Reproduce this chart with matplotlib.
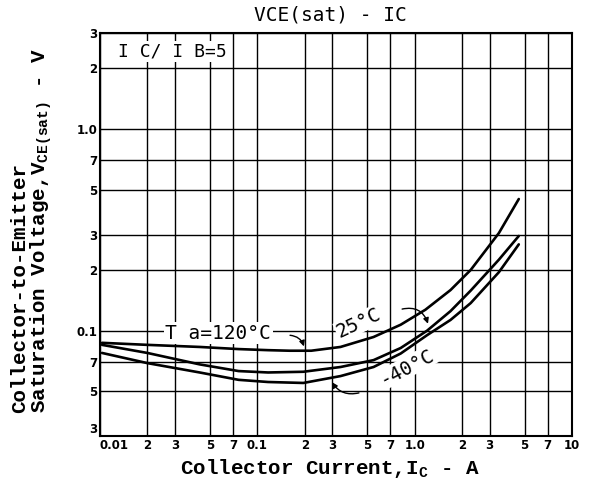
import matplotlib
matplotlib.use('Agg')
import matplotlib.pyplot as plt

# 数据
ic_120 = [0.0103, 0.02, 0.043, 0.076, 0.117, 0.16, 0.22, 0.338, 0.548, 0.815, 1.17, 1.69, 2.27, 3.43, 4.59]
vce_120 = [0.087, 0.085, 0.083, 0.081, 0.080, 0.0795, 0.0795, 0.083, 0.093, 0.107, 0.127, 0.159, 0.200, 0.305, 0.45]

ic_25 = [0.0103, 0.02, 0.043, 0.076, 0.117, 0.196, 0.338, 0.548, 0.815, 1.2, 1.69, 2.27, 3.43, 4.59]
vce_25 = [0.085, 0.0775, 0.068, 0.063, 0.062, 0.0625, 0.066, 0.0714, 0.082, 0.100, 0.125, 0.158, 0.225, 0.295]

ic_m40 = [0.0103, 0.02, 0.043, 0.076, 0.117, 0.196, 0.338, 0.548, 0.815, 1.2, 1.69, 2.27, 3.43, 4.59]
vce_m40 = [0.0775, 0.069, 0.062, 0.057, 0.0556, 0.055, 0.0595, 0.066, 0.077, 0.095, 0.113, 0.137, 0.195, 0.268]

x_ticks = [0.01, 0.02, 0.03, 0.05, 0.07, 0.1, 0.2, 0.3, 0.5, 0.7, 1.0, 2, 3, 5, 7, 10]
x_labels = ['0.01', '2', '3', '5', '7', '0.1', '2', '3', '5', '7', '1.0', '2', '3', '5', '7', '10']
y_ticks = [0.03, 0.05, 0.07, 0.1, 0.2, 0.3, 0.5, 0.7, 1.0, 2, 3]
y_labels = ['3', '5', '7', '0.1', '2', '3', '5', '7', '1.0', '2', '3']

mono = ['DejaVu Sans Mono', 'DejaVu Sans']
bold_mono = ['Liberation Mono', 'DejaVu Sans Mono']

fig = plt.figure(figsize=(5.97, 4.90), dpi=100)
ax = fig.add_axes([100 / 597, 1 - 436 / 490, 472 / 597, 403 / 490])
ax.set_xscale('log')
ax.set_yscale('log')
ax.set_xlim(0.01, 10)
ax.set_ylim(0.03, 3)

ax.set_xticks(x_ticks)
ax.set_xticklabels(x_labels)
ax.set_yticks(y_ticks)
ax.set_yticklabels(y_labels)
ax.minorticks_off()
ax.tick_params(length=0, pad=2, labelsize=8.5)
for t in ax.get_xticklabels() + ax.get_yticklabels():
    t.set_fontweight('bold')
ax.get_xticklabels()[0].set_horizontalalignment('left')
ax.get_yticklabels()[0].set_verticalalignment('bottom')
ax.grid(True, color='black', lw=1.0)
for s in ax.spines.values():
    s.set_linewidth(1.5)

# 曲线
for ic, v in [(ic_120, vce_120), (ic_25, vce_25), (ic_m40, vce_m40)]:
    ax.plot(ic, v, color='black', lw=1.9, solid_capstyle='round', solid_joinstyle='round')

# 标注
ax.text(0.0565, 0.097, 'T a=120°C', family=mono, fontsize=14, ha='center', va='center',
        bbox=dict(facecolor='white', edgecolor='none', pad=1))
ax.annotate('', xy=(0.20, 0.081), xytext=(0.155, 0.095),
            arrowprops=dict(arrowstyle='-|>', color='black', lw=1, connectionstyle='arc3,rad=-0.4',
                            mutation_scale=8))
ax.text(0.44, 0.109, '25°C', family=mono, fontsize=14, ha='center', va='center', rotation=25,
        bbox=dict(facecolor='white', edgecolor='none', pad=0.5))
ax.annotate('', xy=(1.23, 0.105), xytext=(0.8, 0.127),
            arrowprops=dict(arrowstyle='-|>', color='black', lw=1, connectionstyle='arc3,rad=-0.5',
                            mutation_scale=8))
ax.text(0.90, 0.066, '-40°C', family=mono, fontsize=14, ha='center', va='center', rotation=28,
        bbox=dict(facecolor='white', edgecolor='none', pad=0.5))
ax.annotate('', xy=(0.292, 0.057), xytext=(0.46, 0.0495),
            arrowprops=dict(arrowstyle='-|>', color='black', lw=1, connectionstyle='arc3,rad=-0.4',
                            mutation_scale=8))
ax.text(0.038, 0.953, 'I C/ I B=5', transform=ax.transAxes, family=mono, fontsize=13,
        ha='left', va='center', bbox=dict(facecolor='white', edgecolor='none', pad=1))

# 标题与轴标签
fig.text(330 / 597, 1 - 15 / 490, 'VCE(sat) - IC', family=mono, fontsize=14, ha='center', va='center')
fig.text(330 / 597, 1 - 468 / 490, r'Collector Current,I$_\mathregular{C}$ - A', family=bold_mono,
         fontweight='bold', fontsize=15, ha='center', va='center')
fig.text(20 / 597, 1 - 413 / 490, 'Collector-to-Emitter', family=bold_mono, fontweight='bold',
         fontsize=15, rotation=90, ha='center', va='bottom')
fig.text(41 / 597, 1 - 413 / 490, r'Saturation Voltage,V$_\mathregular{CE(sat)}$ - V', family=bold_mono,
         fontweight='bold', fontsize=15, rotation=90, ha='center', va='bottom')

fig.savefig('out.png', dpi=100)
